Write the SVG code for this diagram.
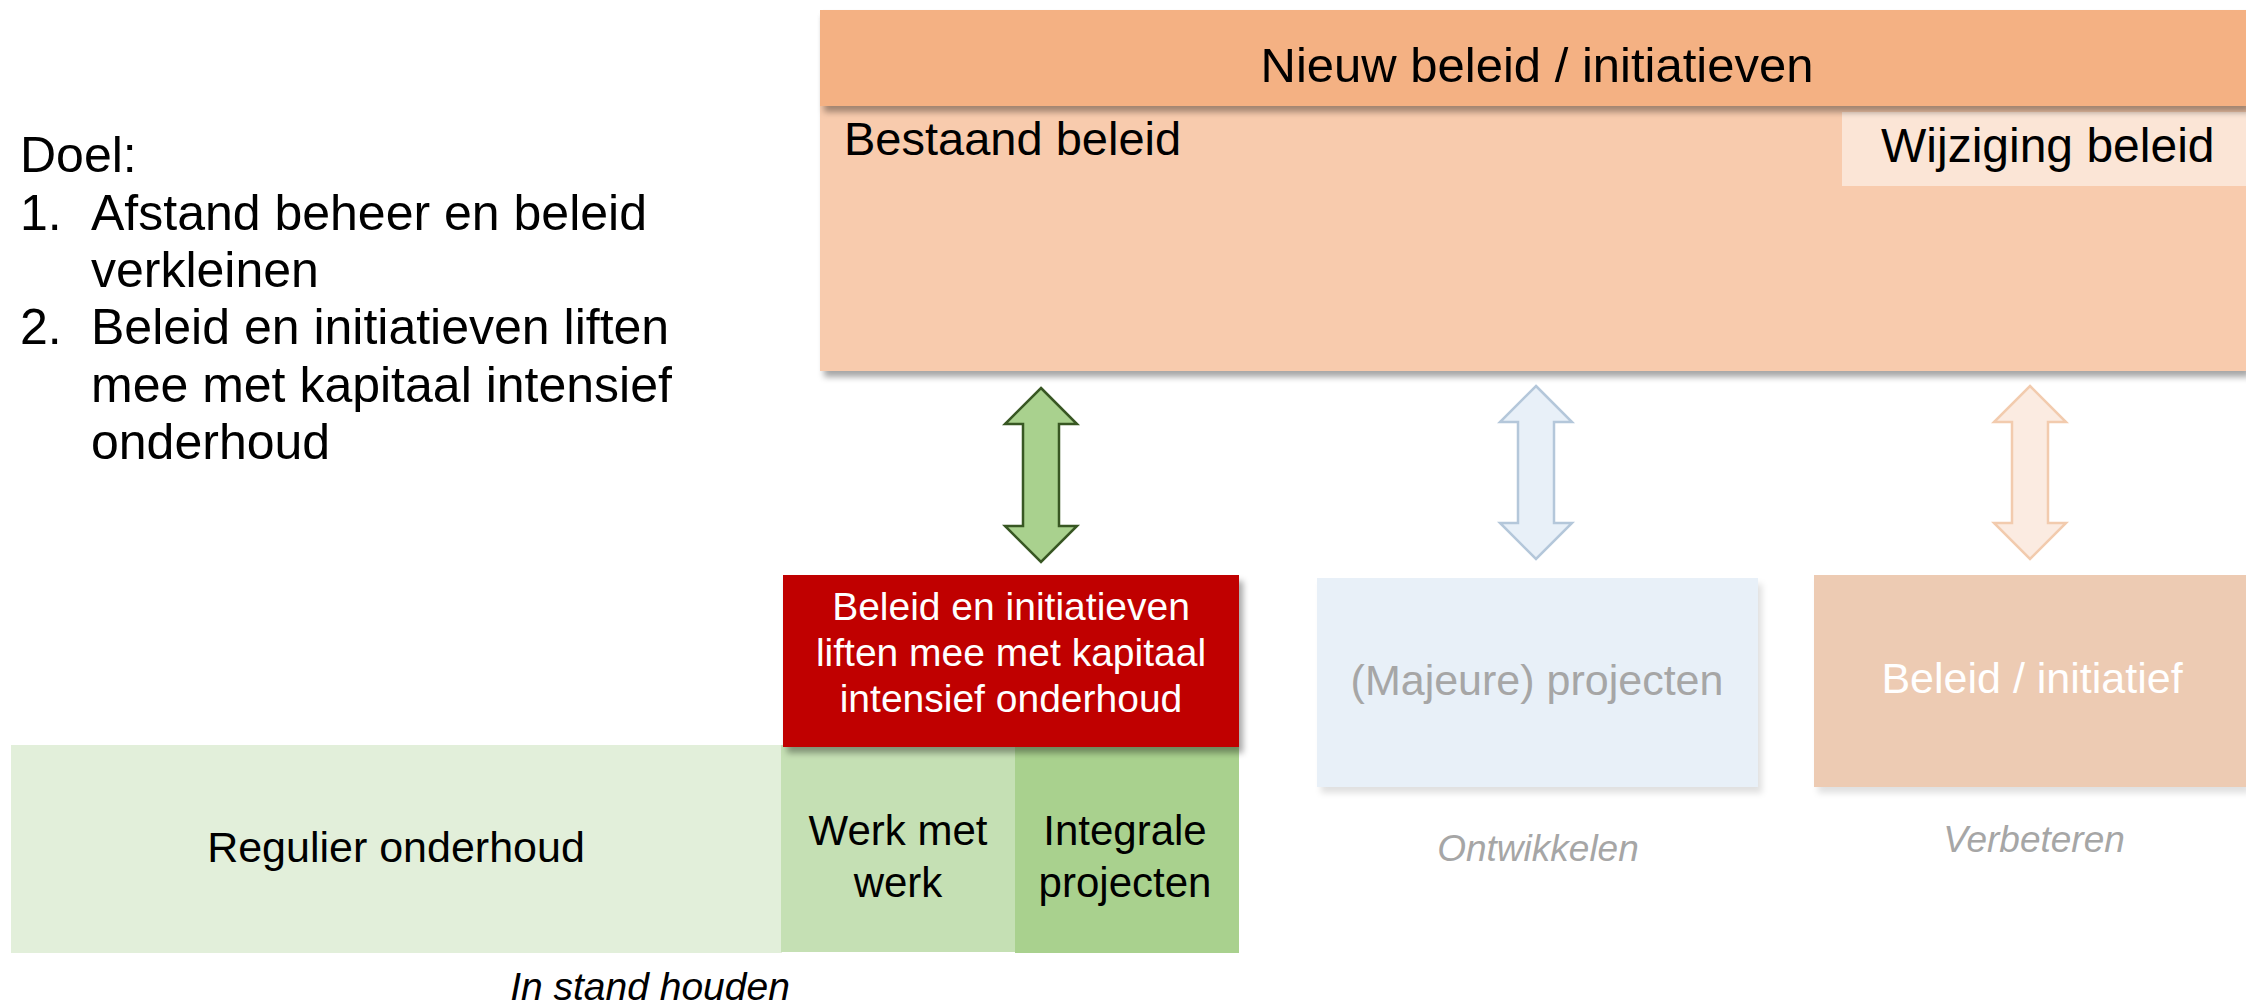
<svg xmlns="http://www.w3.org/2000/svg" width="2246" height="1006" viewBox="0 0 2246 1006">
<style>
text{font-family:"Liberation Sans",Arial,sans-serif;}
.dark{fill:#000000;}
.c{text-anchor:middle;}
.it{font-style:italic;}
.grey{fill:#A6A6A6;}
.white{fill:#FFFFFF;}
</style>
<defs>
<filter id="sh" x="-5%" y="-10%" width="115%" height="130%">
<feDropShadow dx="4" dy="6" stdDeviation="3" flood-color="#000000" flood-opacity="0.35"/>
</filter>
<filter id="shl" x="-5%" y="-10%" width="115%" height="130%">
<feDropShadow dx="4" dy="6" stdDeviation="3" flood-color="#000000" flood-opacity="0.12"/>
</filter>
</defs>
<rect width="2246" height="1006" fill="#FFFFFF"/>

<g id="doel">
<text x="20" y="172" font-size="50" class="dark">Doel:</text>
<text x="20" y="230" font-size="50" class="dark">1.</text>
<text x="91" y="230" font-size="50" class="dark">Afstand beheer en beleid</text>
<text x="91" y="287" font-size="50" class="dark">verkleinen</text>
<text x="20" y="344" font-size="50" class="dark">2.</text>
<text x="91" y="344" font-size="50" class="dark">Beleid en initiatieven liften</text>
<text x="91" y="402" font-size="50" class="dark">mee met kapitaal intensief</text>
<text x="91" y="459" font-size="50" class="dark">onderhoud</text>
</g>

<g id="bestaand-beleid">
<rect x="820" y="10" width="1426" height="361" fill="#F8CBAD" filter="url(#sh)"/>
<text x="844" y="155" font-size="47" class="dark">Bestaand beleid</text>
</g>
<g id="wijziging-beleid">
<rect x="1842" y="112" width="404" height="74" fill="#FBE5D6"/>
<text x="1881" y="162" font-size="48" class="dark">Wijziging beleid</text>
</g>
<g id="nieuw-beleid">
<rect x="820" y="10" width="1426" height="96" fill="#F4B183" filter="url(#sh)"/>
<text x="1537" y="82" font-size="49" class="dark c">Nieuw beleid / initiatieven</text>
</g>

<g id="connectors">
<path d="M1041,388 L1077,424 L1059,424 L1059,526 L1077,526 L1041,562 L1005,526 L1023,526 L1023,424 L1005,424 Z" fill="#A9D18E" stroke="#385723" stroke-width="2.5" stroke-linejoin="miter"/>
<path d="M1536,386 L1572,422 L1554,422 L1554,523 L1572,523 L1536,559 L1500,523 L1518,523 L1518,422 L1500,422 Z" fill="#E8F0F8" stroke="#B4C7DA" stroke-width="2.5"/>
<path d="M2030,386 L2066,422 L2048,422 L2048,523 L2066,523 L2030,559 L1994,523 L2012,523 L2012,422 L1994,422 Z" fill="#FBEBE1" stroke="#F2CBAE" stroke-width="2.5"/>
</g>

<g id="regulier-onderhoud">
<rect x="11" y="745" width="771" height="208" fill="#E2EFDA"/>
<text x="396" y="862" font-size="43" class="dark c">Regulier onderhoud</text>
</g>
<g id="werk-met-werk">
<rect x="781" y="745" width="235" height="207" fill="#C5E0B4"/>
<text x="898" y="845" font-size="42" class="dark c">Werk met</text>
<text x="898" y="897" font-size="42" class="dark c">werk</text>
</g>
<g id="integrale-projecten">
<rect x="1015" y="745" width="224" height="208" fill="#A9D18E"/>
<text x="1125" y="845" font-size="42" class="dark c">Integrale</text>
<text x="1125" y="897" font-size="42" class="dark c">projecten</text>
</g>
<g id="liften-mee">
<rect x="783" y="575" width="456" height="172" fill="#C00000" filter="url(#sh)"/>
<text x="1011" y="620" font-size="39" class="white c">Beleid en initiatieven</text>
<text x="1011" y="666" font-size="39" class="white c">liften mee met kapitaal</text>
<text x="1011" y="712" font-size="39" class="white c">intensief onderhoud</text>
</g>
<text x="650" y="1000" font-size="39" class="dark c it">In stand houden</text>

<g id="majeure-projecten">
<rect x="1317" y="578" width="441" height="209" fill="#E8F0F8" filter="url(#shl)"/>
<text x="1537" y="695" font-size="43" class="grey c">(Majeure) projecten</text>
</g>
<text x="1538" y="861" font-size="37" class="grey c it">Ontwikkelen</text>

<g id="beleid-initiatief">
<rect x="1814" y="575" width="432" height="212" fill="#EDCBB3" filter="url(#shl)"/>
<text x="2032" y="693" font-size="43" class="white c">Beleid / initiatief</text>
</g>
<text x="2034" y="852" font-size="37" class="grey c it">Verbeteren</text>
</svg>
